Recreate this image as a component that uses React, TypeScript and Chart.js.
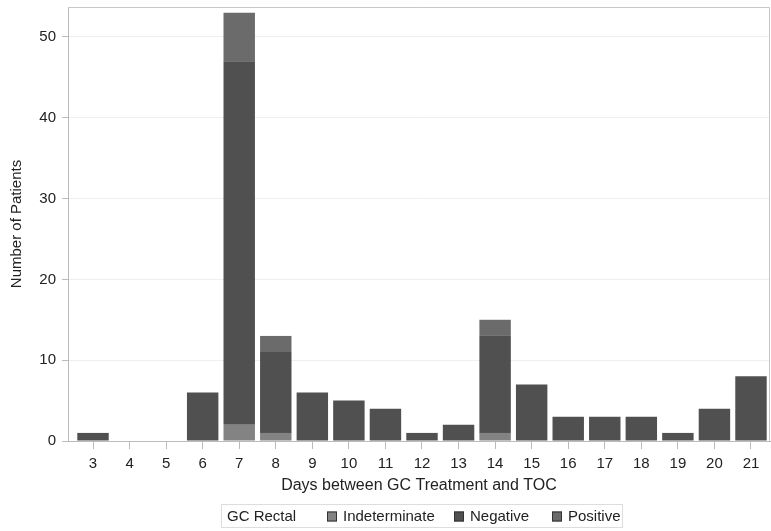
import React, { useEffect, useRef } from "react";
import { Chart, registerables } from "chart.js";

Chart.register(...registerables);

const days = [3, 4, 5, 6, 7, 8, 9, 10, 11, 12, 13, 14, 15, 16, 17, 18, 19, 20, 21];
const indeterminate = [0, 0, 0, 0, 2, 1, 0, 0, 0, 0, 0, 1, 0, 0, 0, 0, 0, 0, 0];
const negative = [1, 0, 0, 6, 45, 10, 6, 5, 4, 1, 2, 12, 7, 3, 3, 3, 1, 4, 8];
const positive = [0, 0, 0, 0, 6, 2, 0, 0, 0, 0, 0, 2, 0, 0, 0, 0, 0, 0, 0];
const yTicks = [0, 10, 20, 30, 40, 50];

const seriesNames = ["Indeterminate", "Negative", "Positive"];
const seriesColors = ["#838383", "#505050", "#6b6b6b"];

const FONT = "'Liberation Sans', Arial, sans-serif";
const TEXT = "#222222";

const framePlugin = {
  id: "frame",
  afterDraw(chart: any) {
    const { ctx, chartArea } = chart;
    ctx.save();
    ctx.strokeStyle = "#c8c8c8";
    ctx.lineWidth = 1;
    ctx.beginPath();
    ctx.moveTo(chartArea.left, chartArea.top + 0.5);
    ctx.lineTo(chartArea.right - 0.5, chartArea.top + 0.5);
    ctx.lineTo(chartArea.right - 0.5, chartArea.bottom);
    ctx.stroke();

    // legend box
    const bx = 221, by = 504, bw = 401, bh = 23;
    ctx.strokeStyle = "#dddddd";
    ctx.strokeRect(bx + 0.5, by + 0.5, bw, bh);
    ctx.font = `15px ${FONT}`;
    ctx.fillStyle = TEXT;
    ctx.textBaseline = "middle";
    ctx.textAlign = "left";
    const cy = by + bh / 2 + 1;
    ctx.fillText("GC Rectal", 227, cy);
    const sqX = [327, 454, 552];
    for (let i = 0; i < seriesNames.length; i++) {
      ctx.fillStyle = seriesColors[i];
      ctx.fillRect(sqX[i], cy - 5, 10, 10);
      ctx.strokeStyle = "#333333";
      ctx.strokeRect(sqX[i] + 0.5, cy - 4.5, 9, 9);
      ctx.fillStyle = TEXT;
      ctx.fillText(seriesNames[i], sqX[i] + 16, cy);
    }
    ctx.restore();
  },
};

export default function App() {
  const ref = useRef<HTMLCanvasElement>(null);

  useEffect(() => {
    document.body.style.margin = "0";
    const canvas = ref.current;
    if (!canvas) return;
    const series = [indeterminate, negative, positive];
    const chart = new Chart(canvas, {
      type: "bar",
      data: {
        datasets: series.map((vals, i) => ({
          label: seriesNames[i],
          data: days.map((d, j) => ({ x: d, y: vals[j] })),
          backgroundColor: seriesColors[i],
          borderWidth: 0,
          barPercentage: 0.86,
          categoryPercentage: 1,
        })),
      },
      options: {
        animation: false,
        responsive: false,
        layout: { padding: { left: 0, top: 7, right: 1, bottom: 34 } },
        plugins: {
          legend: { display: false },
          tooltip: { enabled: false },
        },
        scales: {
          x: {
            type: "linear",
            stacked: true,
            offset: false,
            min: 2.316,
            max: 21.52,
            afterFit: (s: any) => {
              s.height = 56;
              s.paddingLeft = 0;
              s.paddingRight = 0;
              s.paddingTop = 0;
              s.paddingBottom = 0;
            },
            ticks: {
              stepSize: 1,
              includeBounds: false,
              autoSkip: false,
              maxRotation: 0,
              padding: 6,
              color: TEXT,
              font: { family: FONT, size: 15 },
              callback: (v: any) => String(v),
            },
            grid: {
              offset: false,
              drawOnChartArea: false,
              drawTicks: true,
              tickLength: 8,
              tickColor: "#bbbbbb",
            },
            border: { color: "#bbbbbb" },
            title: {
              display: true,
              text: "Days between GC Treatment and TOC",
              color: TEXT,
              font: { family: FONT, size: 16 },
              padding: { top: 0, bottom: 2 },
            },
          },
          y: {
            type: "linear",
            stacked: true,
            min: 0,
            max: 53.7,
            afterFit: (s: any) => {
              s.width = 68;
              s.paddingLeft = 0;
              s.paddingRight = 0;
              s.paddingTop = 0;
              s.paddingBottom = 0;
            },
            afterBuildTicks: (s: any) => {
              s.ticks = yTicks.map((v) => ({ value: v }));
            },
            ticks: {
              padding: 6,
              color: TEXT,
              font: { family: FONT, size: 15 },
              callback: (v: any) => String(v),
            },
            grid: {
              color: "#eeeeee",
              tickColor: "#bbbbbb",
              tickLength: 6,
            },
            border: { color: "#bbbbbb" },
            title: {
              display: true,
              text: "Number of Patients",
              color: TEXT,
              font: { family: FONT, size: 15 },
              padding: { top: 8, bottom: 0 },
            },
          },
        },
      },
      plugins: [framePlugin],
    });
    return () => chart.destroy();
  }, []);

  return (
    <div style={{ width: 771, height: 531, background: "#ffffff" }}>
      <canvas ref={ref} width={771} height={531} style={{ display: "block" }} />
    </div>
  );
}
